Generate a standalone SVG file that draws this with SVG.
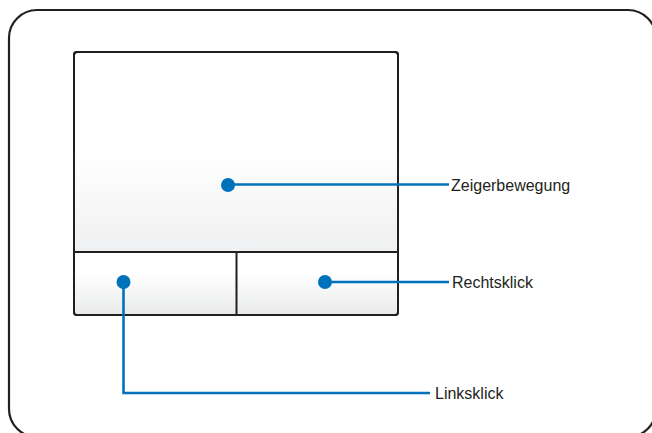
<svg xmlns="http://www.w3.org/2000/svg" width="652" height="433" viewBox="0 0 652 433">
<defs>
<linearGradient id="padGrad" x1="0" y1="52" x2="0" y2="252" gradientUnits="userSpaceOnUse">
<stop offset="0" stop-color="#ffffff"/>
<stop offset="0.5" stop-color="#ffffff"/>
<stop offset="1" stop-color="#eff0f1"/>
</linearGradient>
<linearGradient id="btnGrad" x1="0" y1="0" x2="0" y2="1">
<stop offset="0" stop-color="#ffffff"/>
<stop offset="0.35" stop-color="#ffffff"/>
<stop offset="1" stop-color="#e9eaeb"/>
</linearGradient>
<style>
.frame{fill:#ffffff;stroke:#231f20;stroke-width:2.2}
.pad{stroke:#231f20;stroke-width:2}
.conn{fill:none;stroke:#0072bc;stroke-width:2.6}
.dot{fill:#0072bc}
.lbl{font-family:"Liberation Sans",Arial,sans-serif;font-size:16px;fill:#231f20}
</style>
</defs>
<rect class="frame" x="9" y="10" width="647" height="427" rx="28"/>
<g id="touchpad">
<rect class="pad" x="74" y="52" width="324" height="263" rx="3" fill="url(#padGrad)"/>
</g>
<g id="left-button">
<rect x="75" y="253" width="161" height="61" fill="url(#btnGrad)"/>
</g>
<g id="right-button">
<rect x="237" y="253" width="160" height="61" fill="url(#btnGrad)"/>
</g>
<g id="dividers">
<line class="pad" x1="74" y1="252" x2="398" y2="252"/>
<line class="pad" x1="236.5" y1="252" x2="236.5" y2="315"/>
<rect class="pad" x="74" y="52" width="324" height="263" rx="3" fill="none"/>
</g>
<g id="connectors">
<polyline class="conn" points="228,184.5 449,184.5"/>
<polyline class="conn" points="325,282 449,282"/>
<polyline class="conn" points="123.5,282 123.5,393 430,393"/>
</g>
<g id="dot-move"><circle class="dot" cx="228" cy="185" r="7"/></g>
<g id="dot-right"><circle class="dot" cx="325" cy="282" r="7"/></g>
<g id="dot-left"><circle class="dot" cx="123.5" cy="282" r="7"/></g>
<g id="label-move"><text class="lbl" x="451" y="191">Zeigerbewegung</text></g>
<g id="label-right"><text class="lbl" x="452" y="288">Rechtsklick</text></g>
<g id="label-left"><text class="lbl" x="435" y="399">Linksklick</text></g>
</svg>
